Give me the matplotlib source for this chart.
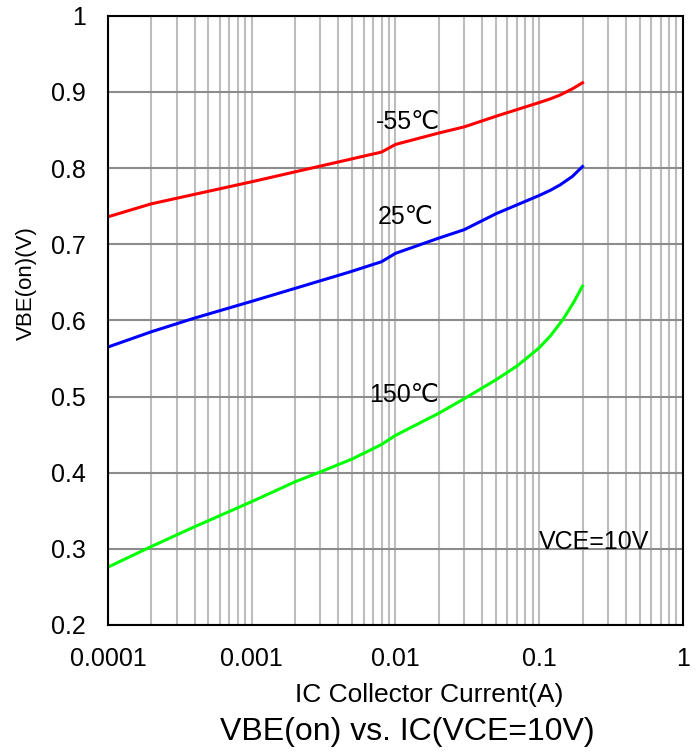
import matplotlib
matplotlib.use("Agg")
import matplotlib.pyplot as plt
from matplotlib.ticker import LogLocator, FixedLocator, FixedFormatter, NullFormatter

plt.rcParams['font.family'] = ['Liberation Sans', 'DejaVu Sans']

# collector current (A) and VBE(on) (V)
ic_m55 = [1e-4, 2e-4, 1e-3, 2e-3, 4.7e-3, 8e-3, 1e-2, 2e-2, 3e-2, 5e-2, 0.1, 0.12, 0.14, 0.17, 0.2]
vbe_m55 = [0.736, 0.753, 0.782, 0.795, 0.811, 0.821, 0.831, 0.846, 0.854, 0.868, 0.886, 0.891, 0.896, 0.904, 0.912]

ic_25 = [1e-4, 2e-4, 4e-4, 1e-3, 2e-3, 4.7e-3, 8e-3, 1e-2, 2e-2, 3e-2, 5e-2, 0.1, 0.12, 0.14, 0.17, 0.2]
vbe_25 = [0.565, 0.585, 0.603, 0.625, 0.642, 0.663, 0.677, 0.688, 0.708, 0.719, 0.740, 0.764, 0.771, 0.778, 0.789, 0.802]

ic_150 = [1e-4, 2e-4, 4e-4, 1e-3, 2e-3, 3e-3, 5e-3, 8e-3, 1e-2, 2e-2, 3e-2, 5e-2, 7e-2, 0.1, 0.12, 0.146, 0.174, 0.2]
vbe_150 = [0.276, 0.303, 0.329, 0.362, 0.388, 0.401, 0.418, 0.437, 0.449, 0.478, 0.497, 0.522, 0.540, 0.564, 0.580, 0.601, 0.624, 0.645]

x_ticks = [1e-4, 1e-3, 1e-2, 1e-1, 1]
x_labels = ['0.0001', '0.001', '0.01', '0.1', '1']
y_ticks = [0.2, 0.3, 0.4, 0.5, 0.6, 0.7, 0.8, 0.9, 1.0]
y_labels = ['0.2', '0.3', '0.4', '0.5', '0.6', '0.7', '0.8', '0.9', '1']

fig = plt.figure(figsize=(6.99, 7.53), dpi=100)
ax = fig.add_axes([0.1545, 0.17, 0.8226, 0.8091])

ax.plot(ic_m55, vbe_m55, color='#ff0000', lw=2.2)
ax.plot(ic_25, vbe_25, color='#0000ff', lw=2.2)
ax.plot(ic_150, vbe_150, color='#00ff00', lw=2.2)

ax.set_xscale('log')
ax.set_xlim(1e-4, 1)
ax.set_ylim(0.2, 1.0)

ax.xaxis.set_major_locator(FixedLocator(x_ticks))
ax.xaxis.set_major_formatter(FixedFormatter(x_labels))
ax.xaxis.set_minor_locator(LogLocator(base=10, subs=range(2, 10), numticks=20))
ax.xaxis.set_minor_formatter(NullFormatter())
ax.yaxis.set_major_locator(FixedLocator(y_ticks))
ax.yaxis.set_major_formatter(FixedFormatter(y_labels))

ax.grid(True, axis='x', which='both', color='#bdbdbd', lw=1.5)
ax.grid(True, axis='y', which='major', color='#8c8c8c', lw=1.5)
ax.set_axisbelow(True)

ax.tick_params(axis='both', which='both', length=0, pad=16, labelsize=18)
for s in ax.spines.values():
    s.set_linewidth(1.5)
    s.set_color('black')

ax.text(0.0073, 0.861, '-55℃', fontsize=18, va='center', ha='left')
ax.text(0.0075, 0.736, '25℃', fontsize=18, va='center', ha='left')
ax.text(0.0066, 0.502, '150℃', fontsize=18, va='center', ha='left')
ax.text(0.1, 0.309, 'VCE=10V', fontsize=18, va='center', ha='left')

fig.text(0.0372, 0.624, 'VBE(on)(V)', rotation=90, fontsize=16, ha='center', va='center')
fig.text(0.6137, 0.077, 'IC Collector Current(A)', fontsize=19, ha='center', va='center')
fig.text(0.583, 0.028, 'VBE(on) vs. IC(VCE=10V)', fontsize=23, ha='center', va='center')

fig.savefig('out.png', dpi=100)
